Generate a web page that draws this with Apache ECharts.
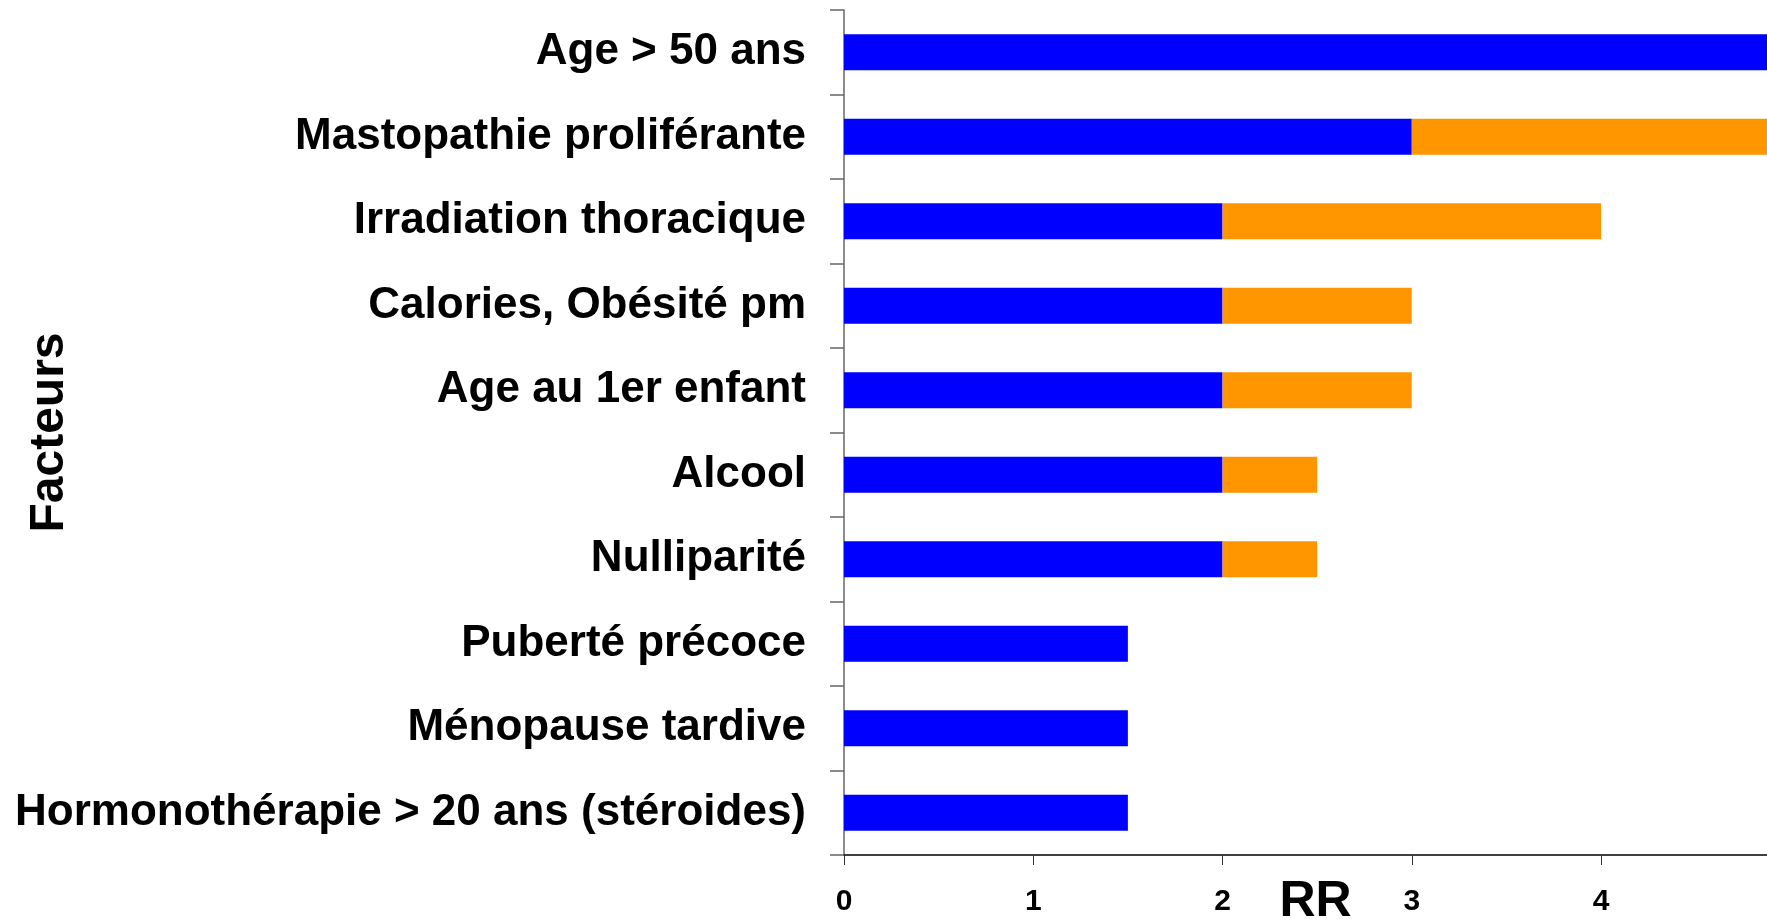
<!DOCTYPE html>
<html>
<head>
<meta charset="utf-8">
<script src="https://cdn.jsdelivr.net/npm/echarts@6/dist/echarts.min.js"></script>
<style>
	html, body { margin: 0; padding: 0; background: #fff; }
	#main { width: 1767px; height: 924px; }
</style>
</head>
<body>
<div id="main"></div>
<script>
// facteurs de risque (haut -> bas)
var facteurs = [ 'Age > 50 ans', 'Mastopathie proliférante',
		'Irradiation thoracique', 'Calories, Obésité pm', 'Age au 1er enfant',
		'Alcool', 'Nulliparité', 'Puberté précoce', 'Ménopause tardive',
		'Hormonothérapie > 20 ans (stéroides)' ];
// RR minimum (bleu)
var rrMin = [ 5, 3, 2, 2, 2, 2, 2, 1.5, 1.5, 1.5 ];
// écart jusqu'au RR maximum (orange)
var rrEcart = [ 0, 2, 2, 1, 1, 0.5, 0.5, 0, 0, 0 ];
var rrTicks = [ 0, 1, 2, 3, 4 ];

var myChart = echarts.init(document.getElementById('main'));
var police = '"Liberation Sans", Arial, sans-serif';

var option = {
	animation : false,
	backgroundColor : '#ffffff',
	grid : {
		left : 844,
		right : 0,
		top : 10,
		bottom : 69,
		containLabel : false,
		outerBoundsMode : 'none'
	},
	xAxis : {
		type : 'value',
		min : 0,
		max : 4.877,
		interval : 1,
		name : 'RR',
		nameLocation : 'middle',
		nameGap : 22,
		nameMoveOverlap : false,
		nameTextStyle : {
			fontFamily : police,
			fontWeight : 'bold',
			fontSize : 50,
			color : '#000',
			verticalAlign : 'top',
			padding : [ 0, 0, 0, 20 ]
		},
		splitLine : { show : false },
		axisLine : {
			show : true,
			onZero : false,
			lineStyle : { color : '#000', width : 1.5 }
		},
		axisTick : {
			show : true,
			length : 10,
			lineStyle : { color : '#333', width : 1 }
		},
		axisLabel : {
			margin : 32,
			fontFamily : police,
			fontWeight : 'bold',
			fontSize : 30,
			color : '#000',
			showMaxLabel : false,
			formatter : function(v) {
				return rrTicks.indexOf(v) >= 0 ? String(v) : '';
			}
		}
	},
	yAxis : {
		type : 'category',
		inverse : true,
		data : facteurs,
		name : 'Facteurs',
		nameLocation : 'middle',
		nameGap : 770,
		nameMoveOverlap : false,
		nameRotate : 90,
		nameTextStyle : {
			fontFamily : police,
			fontWeight : 'bold',
			fontSize : 48,
			color : '#000'
		},
		axisLine : {
			show : true,
			lineStyle : { color : '#666', width : 1.5 }
		},
		axisTick : {
			show : true,
			length : 14,
			lineStyle : { color : '#666', width : 1.5 }
		},
		axisLabel : {
			margin : 38,
			fontFamily : police,
			fontWeight : 'bold',
			fontSize : 44,
			color : '#000'
		}
	},
	series : [ {
		name : 'min',
		type : 'bar',
		stack : 'rr',
		barWidth : 36,
		itemStyle : { color : '#0000FF' },
		data : rrMin
	}, {
		name : 'max',
		type : 'bar',
		stack : 'rr',
		barWidth : 36,
		itemStyle : { color : '#FF9600' },
		data : rrEcart
	} ]
};
myChart.setOption(option);
</script>
</body>
</html>
